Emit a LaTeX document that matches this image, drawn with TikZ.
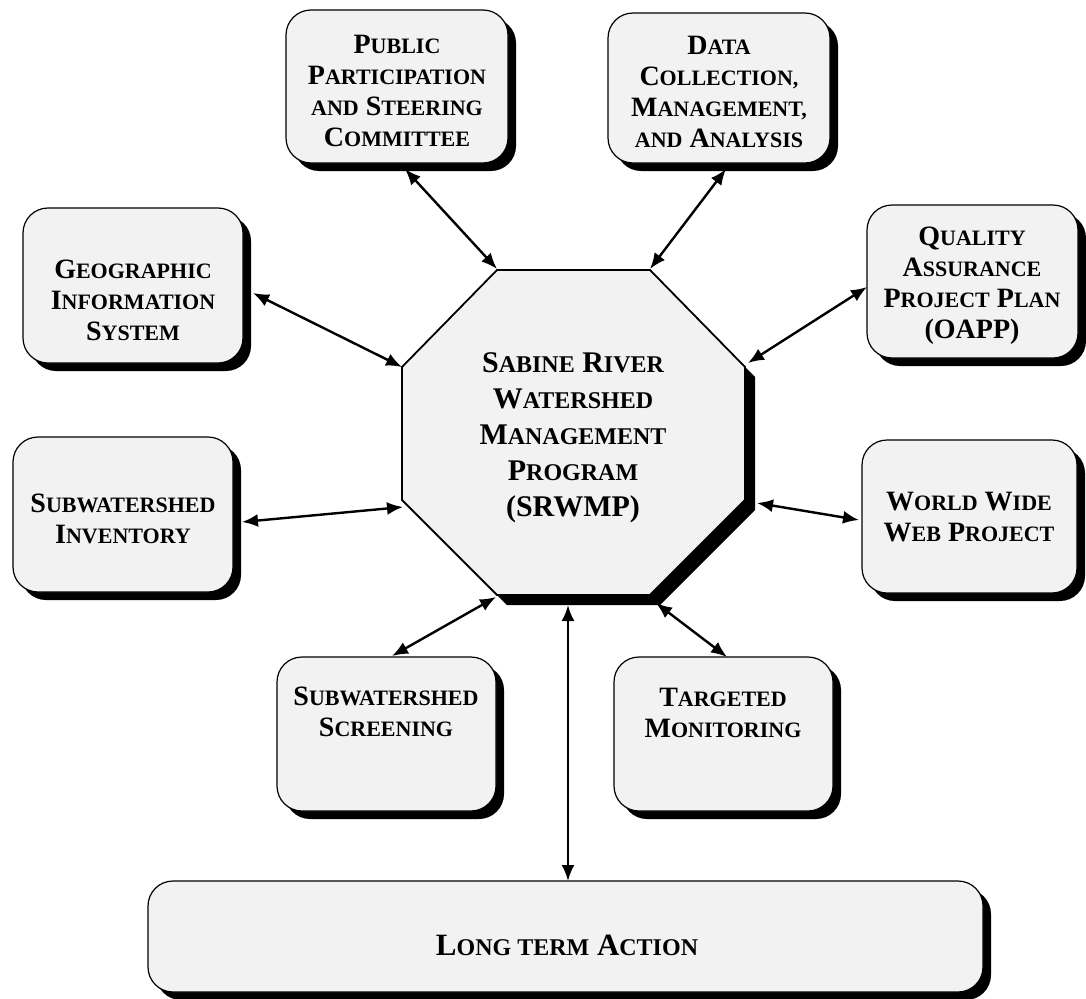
\documentclass[tikz,border=0pt]{standalone}
\usepackage{fontspec}
\setmainfont{Liberation Serif}
\usetikzlibrary{shadows,arrows.meta}
\definecolor{boxgray}{RGB}{242,242,242}
\newcommand{\bsm}[1]{{\fontsize{22}{31}\selectfont #1}}
\newcommand{\lsm}[1]{{\fontsize{24}{31}\selectfont #1}}
\newcommand{\osm}[1]{{\fontsize{24}{36}\selectfont #1}}
\begin{document}
\begin{tikzpicture}[x=1pt,y=-1pt,
  box/.style={draw=black, line width=1.2pt, fill=boxgray, rounded corners=25pt, inner sep=0pt,
    drop shadow={shadow xshift=8pt, shadow yshift=-8pt, fill=black, opacity=1}},
  boxtext/.style={align=center, inner sep=0pt, font=\bfseries\fontsize{28}{31}\selectfont},
  bigtext/.style={align=center, inner sep=0pt, font=\bfseries\fontsize{31}{31}\selectfont},
  octtext/.style={align=center, inner sep=0pt, font=\bfseries\fontsize{30}{36}\selectfont},
  arr/.style={{Latex[length=16pt,width=13pt]}-{Latex[length=16pt,width=13pt]}, line width=2.4pt}]
\useasboundingbox (0,0) rectangle (1086,998);

% octagon
\path[draw=black, line width=1.8pt, fill=boxgray,
  drop shadow={shadow xshift=10pt, shadow yshift=-10pt, fill=black, opacity=1}]
  (497,270) -- (650,270) -- (745,367) -- (745,500) -- (650,595) -- (497,595) -- (402,500) -- (402,367) -- cycle;
\node[octtext] (oct) at (573,438) {S\osm{ABINE} R\osm{IVER}\\ W\osm{ATERSHED}\\ M\osm{ANAGEMENT}\\ P\osm{ROGRAM}\\ (SRWMP)};

% boxes
\node[box, minimum width=222pt, minimum height=153pt] (pub) at (397,86.5) {};
\node[box, minimum width=222pt, minimum height=150pt] (dat) at (719,88) {};
\node[box, minimum width=220pt, minimum height=155pt] (geo) at (133,285.5) {};
\node[box, minimum width=211pt, minimum height=153pt] (qua) at (972.5,281.5) {};
\node[box, minimum width=220pt, minimum height=155pt] (inv) at (123,514.5) {};
\node[box, minimum width=215pt, minimum height=153pt] (www) at (969.5,516.5) {};
\node[box, minimum width=219pt, minimum height=154pt] (scr) at (386.5,734) {};
\node[box, minimum width=219pt, minimum height=154pt] (tar) at (723.5,734) {};
\node[box, minimum width=835pt, minimum height=111pt] (lta) at (565.5,936.5) {};

% texts
\node[boxtext] (pubt) at (397,91) {P\bsm{UBLIC}\\ P\bsm{ARTICIPATION}\\ \bsm{AND} S\bsm{TEERING}\\ C\bsm{OMMITTEE}};
\node[boxtext] (datt) at (719,92) {D\bsm{ATA}\\ C\bsm{OLLECTION,}\\ M\bsm{ANAGEMENT,}\\ \bsm{AND} A\bsm{NALYSIS}};
\node[boxtext] (geot) at (133,300) {G\bsm{EOGRAPHIC}\\ I\bsm{NFORMATION}\\ S\bsm{YSTEM}};
\node[boxtext] (quat) at (972,286) {Q\bsm{UALITY}\\ A\bsm{SSURANCE}\\ P\bsm{ROJECT} P\bsm{LAN}\\ (OAPP)};
\node[boxtext] (invt) at (123,519) {S\bsm{UBWATERSHED}\\ I\bsm{NVENTORY}};
\node[boxtext] (wwwt) at (969,517) {W\bsm{ORLD} W\bsm{IDE}\\ W\bsm{EB} P\bsm{ROJECT}};
\node[boxtext] (scrt) at (386,712) {S\bsm{UBWATERSHED}\\ S\bsm{CREENING}};
\node[boxtext] (tart) at (723,713) {T\bsm{ARGETED}\\ M\bsm{ONITORING}};
\node[bigtext] (ltat) at (567,945) {L\lsm{ONG TERM} A\lsm{CTION}};

% connector end points
\coordinate (pubE) at (405,169);   \coordinate (octA) at (497,269);
\coordinate (datE) at (726,169);   \coordinate (octB) at (650,269);
\coordinate (geoE) at (253,293);   \coordinate (octC) at (402,367);
\coordinate (quaE) at (867,287);   \coordinate (octD) at (748,363);
\coordinate (invE) at (242,522);   \coordinate (octE) at (403,507);
\coordinate (wwwE) at (859,520);   \coordinate (octF) at (757,503);
\coordinate (scrE) at (392,656);   \coordinate (octG) at (496,597);
\coordinate (tarE) at (727,657);   \coordinate (octH) at (656,603);
\coordinate (ltaE) at (568,881);   \coordinate (octI) at (568,605);

\draw[arr] (pubE) -- (octA);
\draw[arr] (datE) -- (octB);
\draw[arr] (geoE) -- (octC);
\draw[arr] (quaE) -- (octD);
\draw[arr] (invE) -- (octE);
\draw[arr] (wwwE) -- (octF);
\draw[arr] (scrE) -- (octG);
\draw[arr] (tarE) -- (octH);
\draw[arr] (ltaE) -- (octI);
\end{tikzpicture}
\end{document}
